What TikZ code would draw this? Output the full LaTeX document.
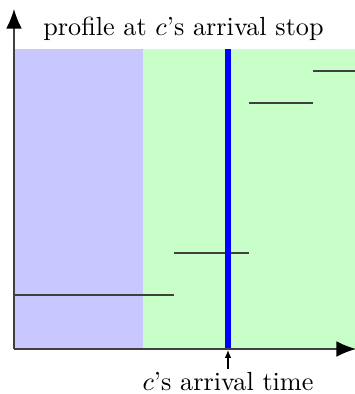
\documentclass[tikz,border=0pt]{standalone}
\usetikzlibrary{arrows.meta}
\definecolor{regblue}{RGB}{200,200,255}
\definecolor{reggreen}{RGB}{200,255,200}
\begin{document}
\begin{tikzpicture}[x=0.382pt,y=-0.382pt,
  axis/.style={draw=black!75,line width=0.5pt,-{Latex[length=7.5pt,width=6pt,black]}},
  seg/.style={draw=black!75,line width=0.45pt},
  lbl/.style={inner sep=0pt,anchor=base}]
\useasboundingbox (0,0) rectangle (355,394);
\fill[regblue] (14,49) rectangle (143,349);
\fill[reggreen] (143,49) rectangle (355,349);
\coordinate (o) at (14,349);
\coordinate (ytop) at (14,9);
\coordinate (xend) at (356,349);
\draw[seg] (14,295) -- (174,295);
\draw[seg] (174,253) -- (249,253);
\draw[seg] (249,103) -- (313,103);
\draw[seg] (313,71) -- (355,71);
\draw[blue,line width=2pt] (228,49) -- (228,349);
\draw[axis] (o) -- (ytop);
\draw[axis] (o) -- (xend);
\node[lbl] (title) at (183.5,35) {profile at $c$'s arrival stop};
\node[lbl] (tlabel) at (228,390) {$c$'s arrival time};
\coordinate (tmark) at (228,350);
\draw[-{Latex[length=3pt,width=2.5pt]},line width=0.4pt,shorten <=1pt] (tlabel.north -| tmark) -- (tmark);
\end{tikzpicture}
\end{document}
